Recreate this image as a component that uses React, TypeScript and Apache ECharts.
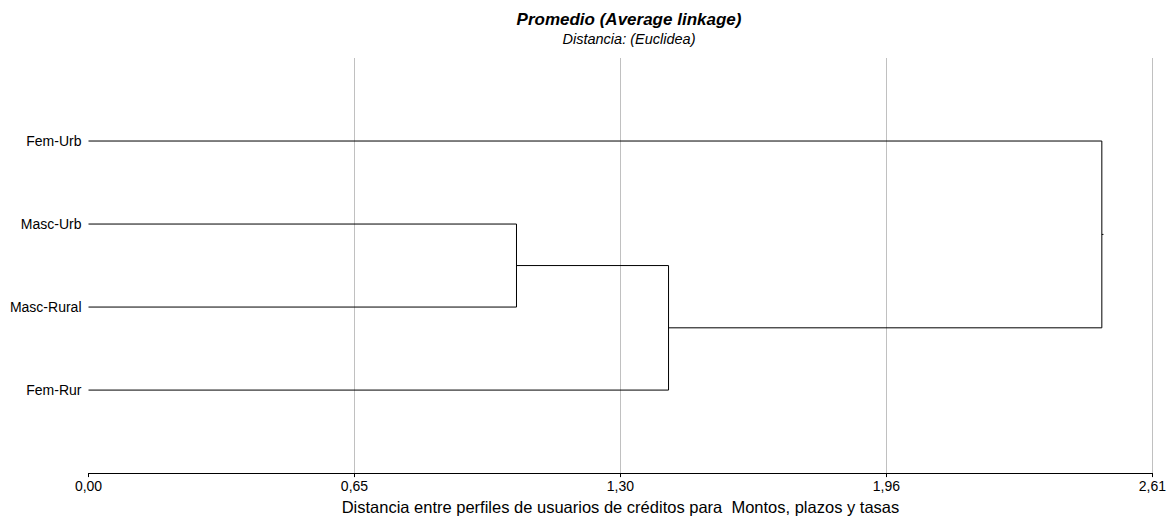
import React, { useEffect, useRef } from "react";
import * as echarts from "echarts";

// Leaves (top to bottom) and their vertical positions on the y value axis
const leafNames = ["Fem-Urb", "Masc-Urb", "Masc-Rural", "Fem-Rur"];
const leafPositions = [4, 3, 2, 1];

// Merges: [childA, childB, height]; children are leaf names or "c<i>" for earlier clusters
const mergeA = ["Masc-Urb", "c0", "Fem-Urb"];
const mergeB = ["Masc-Rural", "Fem-Rur", "c1"];
const mergeHeights = [1.05, 1.423, 2.486];

// X axis ticks
const xMax = 2.61;
const xInterval = 0.6525;
const xTickLabels = ["0,00", "0,65", "1,30", "1,96", "2,61"];

const titleText = "Promedio (Average linkage)";
const subtitleText = "Distancia: (Euclidea)";
const xAxisName = "Distancia entre perfiles de usuarios de créditos para  Montos, plazos y tasas";

const FONT = "'Liberation Sans', Arial, sans-serif";

function buildSegments() {
  const nodes: Record<string, { x: number; y: number }> = {};
  leafNames.forEach((n, i) => (nodes[n] = { x: 0, y: leafPositions[i] }));
  const series: any[] = [];
  mergeHeights.forEach((h, i) => {
    const a = nodes[mergeA[i]];
    const b = nodes[mergeB[i]];
    series.push({
      type: "line",
      data: [
        [a.x, a.y],
        [h, a.y],
        [h, b.y],
        [b.x, b.y],
      ],
      symbol: "none",
      lineStyle: { color: "#000", width: 1 },
      silent: true,
    });
    nodes["c" + i] = { x: h, y: (a.y + b.y) / 2 };
  });
  const root = nodes["c" + (mergeHeights.length - 1)];
  series.push({
    type: "line",
    data: [
      [root.x, root.y],
      [root.x + 0.004, root.y],
    ],
    symbol: "none",
    lineStyle: { color: "#000", width: 1 },
    silent: true,
  });
  return series;
}

export default function App() {
  const ref = useRef<HTMLDivElement>(null);
  useEffect(() => {
    if (!ref.current) return;
    const chart = echarts.init(ref.current, undefined, { renderer: "svg" });
    chart.setOption({
      animation: false,
      backgroundColor: "#fff",
      title: {
        text: titleText,
        subtext: subtitleText,
        left: 624,
        textAlign: "center",
        top: 6,
        itemGap: 3,
        textStyle: {
          fontFamily: FONT,
          fontSize: 17,
          fontStyle: "italic",
          fontWeight: "bold",
          color: "#000",
        },
        subtextStyle: {
          fontFamily: FONT,
          fontSize: 14.5,
          fontStyle: "italic",
          color: "#000",
        },
      },
      grid: { left: 88.5, right: 14, top: 58, bottom: 42, containLabel: false },
      xAxis: {
        type: "value",
        min: 0,
        max: xMax,
        interval: xInterval,
        name: xAxisName,
        nameLocation: "middle",
        nameGap: 24,
        nameTextStyle: { fontFamily: FONT, fontSize: 16.5, color: "#000" },
        axisLine: { show: true, lineStyle: { color: "#000", width: 1 } },
        axisTick: { show: true, length: 4, lineStyle: { color: "#000" } },
        axisLabel: {
          fontFamily: FONT,
          fontSize: 14,
          color: "#000",
          margin: 6,
          formatter: (v: number) => xTickLabels[Math.round(v / xInterval)] ?? "",
        },
        splitLine: {
          show: true,
          showMinLine: false,
          lineStyle: { color: "#c0c0c0", width: 1 },
        },
      },
      yAxis: {
        type: "value",
        min: 0,
        max: 5,
        interval: 1,
        axisLine: { show: false },
        axisTick: { show: false },
        splitLine: { show: false },
        axisLabel: {
          fontFamily: FONT,
          fontSize: 14,
          color: "#000",
          margin: 7,
          formatter: (v: number) => {
            const i = leafPositions.indexOf(Math.round(v));
            return i >= 0 ? leafNames[i] : "";
          },
        },
      },
      series: buildSegments(),
    });
    return () => chart.dispose();
  }, []);
  return (
    <div
      ref={ref}
      style={{ position: "fixed", left: 0, top: 0, width: 1169, height: 520 }}
    />
  );
}
